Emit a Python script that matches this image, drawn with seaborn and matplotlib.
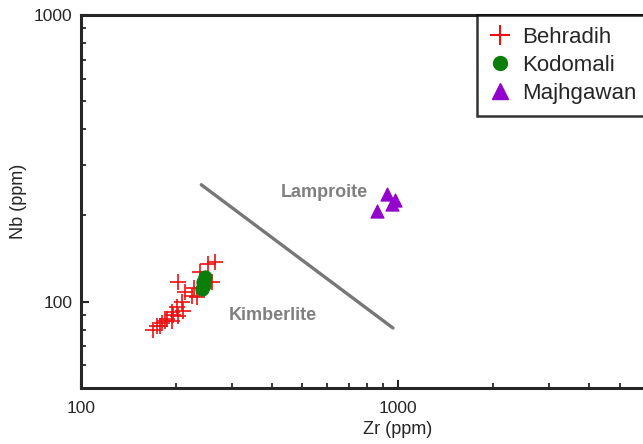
import pandas as pd
import seaborn as sns
import matplotlib.pyplot as plt
from matplotlib.lines import Line2D

# Zr / Nb values (ppm)
behradih_zr = [265, 252, 238, 203, 260, 213, 224, 233, 209, 201, 194, 203, 194,
               187, 180, 174, 169, 210, 196, 185, 178, 228]
behradih_nb = [138, 135, 127, 117, 117, 108, 105, 104, 100, 96, 92, 89, 86,
               87, 84, 82, 80, 93, 90, 86, 82, 112]
kodomali_zr = [247, 243, 241, 245]
kodomali_nb = [122, 117, 111, 114]
majhgawan_zr = [861, 925, 980, 960]
majhgawan_nb = [207, 237, 227, 219]

# Kimberlite / lamproite divide
line_zr = [240, 965]
line_nb = [256, 81]

df = pd.concat([
    pd.DataFrame({'Zr': behradih_zr, 'Nb': behradih_nb, 'Locality': 'Behradih'}),
    pd.DataFrame({'Zr': kodomali_zr, 'Nb': kodomali_nb, 'Locality': 'Kodomali'}),
    pd.DataFrame({'Zr': majhgawan_zr, 'Nb': majhgawan_nb, 'Locality': 'Majhgawan'}),
])

sns.set_style("ticks")
plt.rcParams['font.family'] = ['Liberation Sans', 'DejaVu Sans']

fig = plt.figure(figsize=(6.43, 4.44), dpi=100)
# axes runs past the right edge, as in the cropped original
ax = fig.add_axes([0.1255, 0.126, 0.9865, 0.840])

colors = {'Behradih': '#ee1111', 'Kodomali': '#0a7d0a', 'Majhgawan': '#9400cc'}

sub = df[df.Locality == 'Behradih']
sns.scatterplot(x='Zr', y='Nb', data=sub, marker='+', s=120, color=colors['Behradih'],
                linewidth=1.2, ax=ax, legend=False, zorder=3)
sub = df[df.Locality == 'Kodomali']
sns.scatterplot(x='Zr', y='Nb', data=sub, marker='o', s=90, color=colors['Kodomali'],
                edgecolor=colors['Kodomali'], ax=ax, legend=False, zorder=4)
sub = df[df.Locality == 'Majhgawan']
sns.scatterplot(x='Zr', y='Nb', data=sub, marker='^', s=90, color=colors['Majhgawan'],
                edgecolor=colors['Majhgawan'], ax=ax, legend=False, zorder=4)

sns.lineplot(x=line_zr, y=line_nb, color='#777777', linewidth=2.4, ax=ax, zorder=2)

ax.text(585, 240, 'Lamproite', color='#808080', fontsize=13, fontweight='bold',
        ha='center', va='center')
ax.text(404, 89.5, 'Kimberlite', color='#808080', fontsize=13, fontweight='bold',
        ha='center', va='center')

ax.set_xscale('log')
ax.set_yscale('log')
ax.set_xlim(100, 10000)
ax.set_ylim(50, 1000)
ax.set_xticks([100, 1000])
ax.set_xticklabels(['100', '1000'])
ax.set_yticks([100, 1000])
ax.set_yticklabels(['100', '1000'])
ax.tick_params(which='major', direction='in', length=6, width=1.5, labelsize=12.5, pad=9)
ax.tick_params(which='minor', direction='in', length=3.5, width=1.3)
ax.tick_params(axis='y', which='major', pad=6)
for s in ax.spines.values():
    s.set_linewidth(2.2)

ax.set_xlabel('Zr (ppm)', fontsize=13, labelpad=4)
ax.set_ylabel('Nb (ppm)', fontsize=13, labelpad=5)

handles = [
    Line2D([], [], marker='+', color=colors['Behradih'], linestyle='none',
           markersize=14, markeredgewidth=1.5),
    Line2D([], [], marker='o', color=colors['Kodomali'], linestyle='none', markersize=10),
    Line2D([], [], marker='^', color=colors['Majhgawan'], linestyle='none', markersize=11),
]
leg = fig.legend(handles, ['Behradih', 'Kodomali', 'Majhgawan'],
                 loc='upper left', bbox_to_anchor=(477 / 643, 1 - 15 / 444),
                 fontsize=16, frameon=True, fancybox=False, edgecolor='black',
                 handlelength=1.0, handletextpad=0.5, labelspacing=0.3,
                 borderpad=0.55, borderaxespad=0)
leg.get_frame().set_linewidth(1.8)

fig.savefig('out.png', dpi=100)
